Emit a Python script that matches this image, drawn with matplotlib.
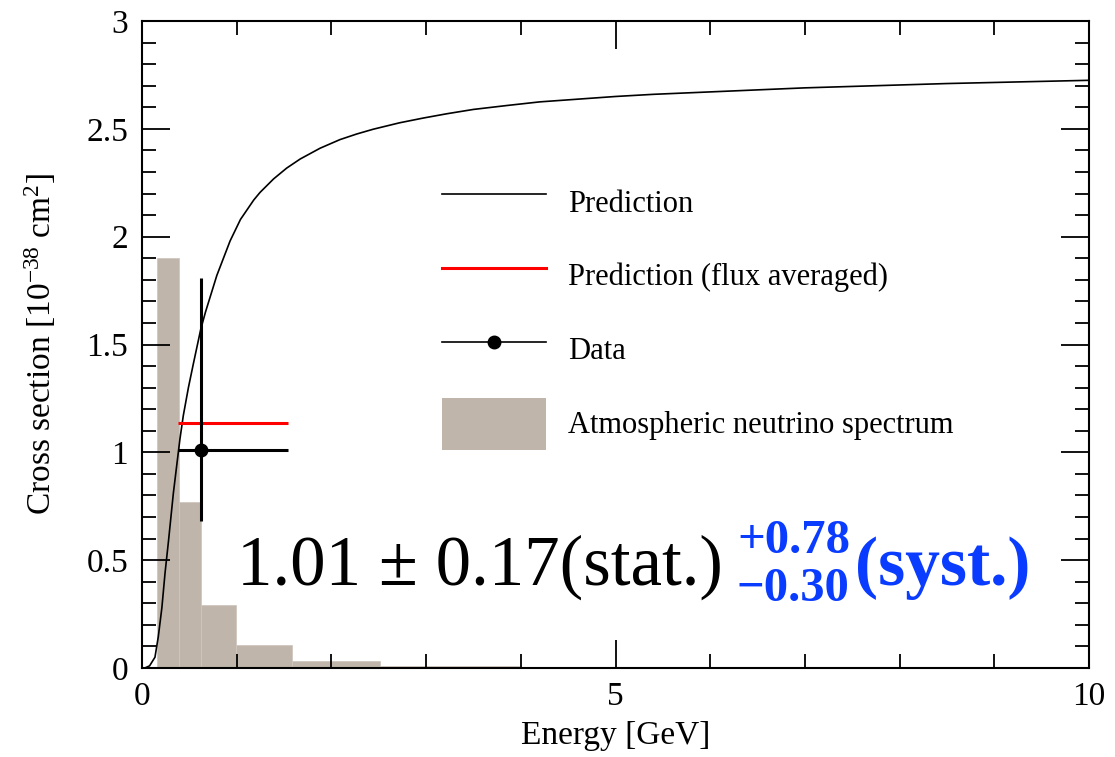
import numpy as np
import matplotlib
matplotlib.use("Agg")
import matplotlib.pyplot as plt
from matplotlib.lines import Line2D
from matplotlib.patches import Patch
from matplotlib.ticker import MultipleLocator

plt.rcParams['font.family'] = ['Liberation Serif', 'DejaVu Serif']
plt.rcParams['mathtext.fontset'] = 'custom'
plt.rcParams['mathtext.rm'] = 'Liberation Serif'
plt.rcParams['mathtext.it'] = 'Liberation Serif:italic'
plt.rcParams['mathtext.bf'] = 'Liberation Serif:bold'

# ---------------- data ----------------
# Prediction curve (cross section vs energy)
pred_energy = [0.03, 0.08, 0.137, 0.172, 0.21, 0.243, 0.28, 0.331, 0.40, 0.436,
               0.49, 0.542, 0.62, 0.67, 0.79, 0.93, 1.04, 1.18, 1.246, 1.39,
               1.528, 1.67, 1.88, 2.09, 2.267, 2.44, 2.72, 2.97, 3.22, 3.50,
               3.85, 4.20, 5.0, 5.4, 7.0, 8.5, 10.0]
pred_xsec = [0.0, 0.01, 0.05, 0.145, 0.28, 0.439, 0.59, 0.81, 1.06, 1.17,
             1.30, 1.41, 1.57, 1.65, 1.82, 1.98, 2.08, 2.17, 2.205, 2.268,
             2.318, 2.36, 2.41, 2.45, 2.476, 2.498, 2.528, 2.55, 2.57, 2.59,
             2.608, 2.625, 2.65, 2.66, 2.69, 2.71, 2.725]

# Atmospheric neutrino spectrum histogram (arbitrary units)
hist_edges = [0.155, 0.39, 0.62, 0.99, 1.58, 2.51, 3.98, 6.31, 10.0]
hist_heights = [1.90, 0.77, 0.29, 0.105, 0.033, 0.009, 0.004, 0.0015]

# Data point
data_x = [0.62]
data_y = [1.01]
data_xerr_low = [0.235]
data_xerr_high = [0.925]
data_yerr_low = [0.33]
data_yerr_high = [0.80]

# Flux averaged prediction
flux_x = [0.385, 1.545]
flux_y = [1.134, 1.134]

# Texts
main_text = "1.01 \u00b1 0.17(stat.)"
syst_up = "+0.78"
syst_down = "\u22120.30"
syst_text = "(syst.)"
legend_labels = ["Prediction", "Prediction (flux averaged)", "Data",
                 "Atmospheric neutrino spectrum"]

HIST_COLOR = "#BFB5AB"
BLUE = "#0A3CFF"

# ---------------- figure ----------------
W, H = 1115, 757
fig = plt.figure(figsize=(W / 100, H / 100), dpi=100)
ax = fig.add_axes([142 / W, (H - 668) / H, 947 / W, 647 / H])

widths = np.diff(hist_edges)
ax.bar(hist_edges[:-1], hist_heights, width=widths, align='edge',
       color=HIST_COLOR, edgecolor="#CFC7BF", linewidth=0.6, zorder=1)

ax.plot(pred_energy, pred_xsec, color='black', lw=1.2, zorder=3)

ax.plot(flux_x, flux_y, color='red', lw=2.2, zorder=4, solid_capstyle='butt')

ax.errorbar(data_x, data_y,
            xerr=[data_xerr_low, data_xerr_high],
            yerr=[data_yerr_low, data_yerr_high],
            fmt='o', color='black', ms=9, elinewidth=2.2, capsize=0, zorder=5)

ax.set_xlim(0, 10)
ax.set_ylim(0, 3)

ax.xaxis.set_major_locator(MultipleLocator(5))
ax.xaxis.set_minor_locator(MultipleLocator(1))
ax.yaxis.set_major_locator(MultipleLocator(0.5))
ax.yaxis.set_minor_locator(MultipleLocator(0.1))
ax.yaxis.set_major_formatter(matplotlib.ticker.FuncFormatter(
    lambda v, p: ('%g' % v)))

ax.tick_params(which='both', direction='in', top=True, right=True,
               width=1.3, labelsize=24)
ax.tick_params(which='major', length=20, pad=10)
ax.tick_params(which='minor', length=10)
for s in ax.spines.values():
    s.set_linewidth(1.5)

ax.set_xlabel("Energy [GeV]", fontsize=24, labelpad=6)
ax.set_ylabel(r"Cross section [10$^{\mathregular{-38}}$ cm$^{\mathregular{2}}$]",
              fontsize=24, labelpad=20)

# legend
handles = [
    Line2D([], [], color='black', lw=1.2),
    Line2D([], [], color='red', lw=2.2),
    Line2D([], [], color='black', lw=1.2, marker='o', ms=9),
    Patch(facecolor=HIST_COLOR, edgecolor='none'),
]
leg = ax.legend(handles, legend_labels, loc='upper left',
                bbox_to_anchor=(442 / W, (H - 176) / H),
                bbox_transform=fig.transFigure, frameon=False,
                fontsize=22, handlelength=3.4, handleheight=2.25,
                handletextpad=0.72, labelspacing=0.71, borderpad=0,
                borderaxespad=0)

# annotation
t1 = fig.text(237 / W, (H - 585) / H, main_text, fontsize=51,
              ha='left', va='baseline', color='black')
fig.canvas.draw()
r = fig.canvas.get_renderer()
bb = t1.get_window_extent(r)
x_next = (bb.x1 + 14) / W
t2 = fig.text(x_next, (H - 553) / H, syst_up, fontsize=35,
              fontweight='bold', ha='left', va='baseline', color=BLUE)
t3 = fig.text(x_next, (H - 601) / H, syst_down, fontsize=35,
              fontweight='bold', ha='left', va='baseline', color=BLUE)
fig.canvas.draw()
bb2 = t2.get_window_extent(r)
bb3 = t3.get_window_extent(r)
x_next2 = (max(bb2.x1, bb3.x1) + 5) / W
fig.text(x_next2, (H - 585) / H, syst_text, fontsize=50, fontweight='bold',
         ha='left', va='baseline', color=BLUE)

fig.savefig("out.png", dpi=100)
